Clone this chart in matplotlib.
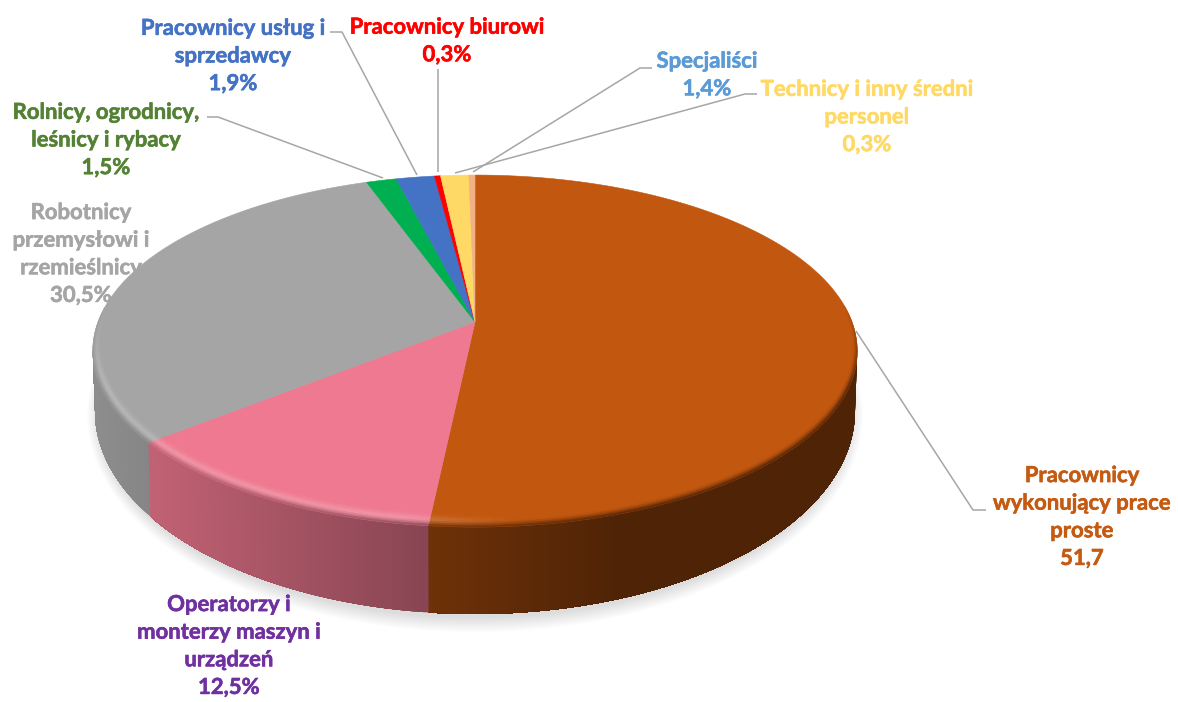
import numpy as np
import matplotlib
matplotlib.use("Agg")
import matplotlib.pyplot as plt
import matplotlib.patheffects as pe
from matplotlib.colors import to_rgb
from matplotlib.collections import PolyCollection

# ---- data (clockwise from 12 o'clock)
categories = ["Pracownicy\nwykonujący prace\nproste", "Operatorzy i\nmonterzy maszyn i\nurządzeń",
              "Robotnicy\nprzemysłowi i\nrzemieślnicy", "Rolnicy, ogrodnicy,\nleśnicy i rybacy",
              "Pracownicy usług i\nsprzedawcy", "Pracownicy biurowi", "Specjaliści",
              "Technicy i inny średni\npersonel"]
values = [51.7, 12.5, 30.5, 1.5, 1.9, 0.3, 1.4, 0.3]
value_labels = ["51,7", "12,5%", "30,5%", "1,5%", "1,9%", "0,3%", "1,4%", "0,3%"]

# ---- style
slice_colors = ["#C2570F", "#EF7990", "#A5A5A5", "#00B050", "#4472C4", "#FF0000", "#FFD966", "#F4B183"]
label_colors = ["#C55A11", "#7030A0", "#A5A5A5", "#548235", "#4472C4", "#FF0000", "#5B9BD5", "#FFD966"]
label_pos = [(1082, 517), (229, 646), (81, 254), (106, 140), (233, 56), (447, 41), (707, 75), (867, 117)]
leaders = [[(856, 331), (973, 510), (986, 510)], None, None,
           [(383, 178), (218, 117), (207, 117)], [(417, 175), (342, 32), (330, 32)],
           [(438, 172), (438, 69)], [(473, 172), (640, 68), (652, 68)],
           [(455, 173), (745, 94), (757, 94)]]

CX, APEX_Y, K, A, R = 475.0, 322.0, 0.165, 171.2, 377.0
EY, ERY, ERX = 351.0, 176.0, 382.0        # top-surface ellipse
BY, BRY, BRX = 411.0, 203.0, 380.0        # lower-edge ellipse


def project(theta, r=1.0):
    """Perspective projection of a disc point (clockwise angle from the top)."""
    x, y = r * np.sin(theta), r * np.cos(theta)
    w = 1 + K * y
    return CX + R * x / w, APEX_Y - A * y / w


def lower(px):
    dx = np.clip((px - CX) / ERX, -1, 1)
    return CX + BRX * dx, BY + BRY * np.sqrt(1 - dx ** 2)


def side_factor(px):
    return np.clip(0.57 + (427 - px) * 0.23 / 267, 0.40, 0.86)


fig = plt.figure(figsize=(11.78, 7.02), dpi=100)
ax = fig.add_axes([0, 0, 1, 1])
ax.set_xlim(0, 1178)
ax.set_ylim(702, 0)
ax.axis("off")

# soft shadow
t = np.linspace(0, 2 * np.pi, 240)
for d in np.linspace(16, 0, 17):
    ax.fill(CX + (BRX + d * 0.75 - 4) * np.cos(t), BY + 4 + (BRY + d * 0.9) * np.sin(t),
            color="k", alpha=0.0085, lw=0, zorder=1)

cum = np.cumsum([0] + values) / sum(values) * 2 * np.pi
band_polys, band_cols = [], []
LEVELS = 9
for i, col in enumerate(slice_colors):
    base = np.array(to_rgb(col))
    th = np.linspace(cum[i], cum[i + 1], max(3, int((cum[i + 1] - cum[i]) / np.radians(0.5)) + 1))
    px, py = project(th)
    ax.fill(np.r_[CX, px], np.r_[APEX_Y, py], color=col, lw=0.4, zorder=3)

    # side wall: each piece reaches to the end of the slice, later pieces paint over it
    front = py >= EY - 1
    if front.any():
        tf = th[front]
        fx, fy = project(tf)
        lx, ly = lower(fx)
        for j in range(len(tf) - 1):
            f = side_factor((fx[j] + fx[j + 1]) / 2)
            ax.fill(np.r_[fx[j:], lx[j:][::-1]], np.r_[fy[j:], ly[j:][::-1]],
                    color=np.clip(base * f, 0, 1), lw=0, zorder=2)

    for a, b in zip(th[:-1], th[1:]):
        mid_x, mid_y = project((a + b) / 2)
        ey = (mid_y - EY) / ERY
        f = side_factor(mid_x)
        g = np.clip((ey + 0.25) / 0.45, 0, 1)
        if g <= 0:
            continue
        w = 0.018 + 0.042 * max(0.0, -np.cos((a + b) / 2))
        h = 0.22 * np.clip((520 - mid_x) / 120, 0, 1)
        light = base + (1 - base) * h
        dark = base * f
        for lv in range(LEVELS):
            t0, t1 = lv / LEVELS, (lv + 1) / LEVELS
            tm = (t0 + t1) / 2
            if tm < 0.55:
                c = base + (light - base) * (tm / 0.55) ** 2
            else:
                s = (tm - 0.55) / 0.45
                c = light + (dark - light) * s ** 1.5
            c = base * (1 - g) + c * g
            r0, r1 = 1 - w * (1 - t0), 1 - w * (1 - t1)
            band_polys.append([project(a, r0), project(b, r0), project(b, r1), project(a, r1)])
            band_cols.append(np.clip(c, 0, 1))

ax.add_collection(PolyCollection(band_polys, facecolors=band_cols, edgecolors=band_cols,
                                 linewidths=0.3, zorder=4))

# leader lines
for pts in leaders:
    if pts:
        ax.plot(*zip(*pts), color="#A6A6A6", lw=1.1, zorder=5, solid_capstyle="butt")

# labels
for name, val, c, (x, y) in zip(categories, value_labels, label_colors, label_pos):
    ax.text(x, y, f"{name}\n{val}", color=c, ha="center", va="center", family="Lato",
            weight="bold", fontsize=15.9, linespacing=1.39, zorder=6,
            path_effects=[pe.withStroke(linewidth=0.4, foreground=c)])

fig.savefig("out.png", dpi=100, facecolor="white")
